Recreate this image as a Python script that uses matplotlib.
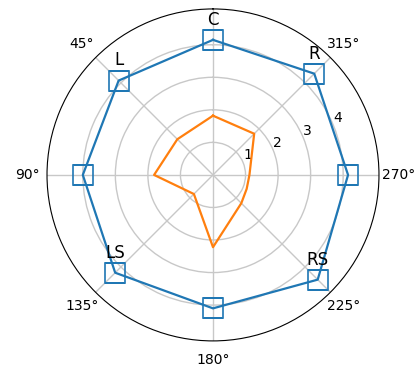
import numpy as np
import matplotlib.pyplot as plt

# outer shape: one point per direction (degrees, counterclockwise from north)
outer_deg = [0, 45, 90, 135, 180, 225, 270, 315]
outer_r = [4.15, 4.1, 4.0, 4.25, 4.1, 4.55, 4.15, 4.4]

# inner shape
inner_deg = [0, 45, 90, 135, 180, 225, 247.5, 270, 315]
inner_r = [1.82, 1.55, 1.81, 0.83, 2.22, 1.23, 1.12, 1.12, 1.79]

# names shown next to the outer points
names = {0: "C", 45: "L", 135: "LS", 225: "RS", 315: "R"}

# angle labels (the one at north falls off the top of the figure)
grid_deg = [0, 45, 90, 135, 180, 225, 270, 315]
grid_labels = ["", "45°", "90°", "135°", "180°", "225°", "270°", "315°"]

fig = plt.figure(figsize=(4.16, 3.71), dpi=100)
ax = fig.add_axes([0.113, 0.081, 0.798, 0.895], projection="polar")
ax.set_theta_zero_location("N")

t_out = np.deg2rad(outer_deg + [outer_deg[0]])
r_out = outer_r + [outer_r[0]]
ax.plot(t_out, r_out, color="#1f77b4", linewidth=1.6)
ax.plot(np.deg2rad(outer_deg), outer_r, linestyle="none", marker="s",
        markersize=14.5, markerfacecolor="none", markeredgecolor="#1f77b4",
        markeredgewidth=1.2)

t_in = np.deg2rad(inner_deg + [inner_deg[0]])
r_in = inner_r + [inner_r[0]]
ax.plot(t_in, r_in, color="#ff7f0e", linewidth=1.6)

for d, r in zip(outer_deg, outer_r):
    if d in names:
        ax.annotate(names[d], (np.deg2rad(d), r), xytext=(0, 8),
                    textcoords="offset points", ha="center", va="bottom",
                    fontsize=12)

ax.set_thetagrids(grid_deg, grid_labels)
ax.set_ylim(0, 5.1)
ax.set_rticks([1, 2, 3, 4])
ax.set_rlabel_position(292.5)
ax.tick_params(labelsize=10)
ax.grid(True, color="#c8c8c8", linewidth=1)

fig.savefig("out.png", dpi=100)
